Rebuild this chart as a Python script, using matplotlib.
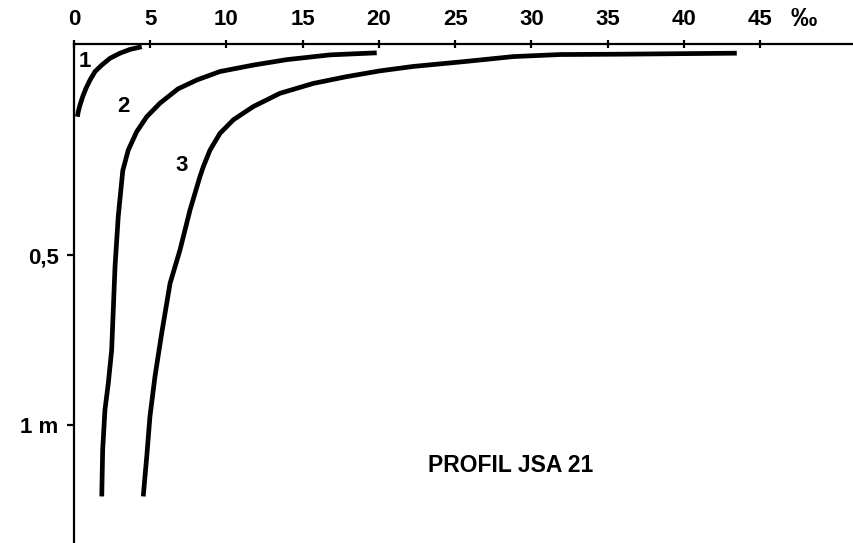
import numpy as np
import matplotlib.pyplot as plt

plt.rcParams['font.family'] = ['Liberation Sans', 'DejaVu Sans']

# salinity (per mille) vs depth (m)
c1_sal = [4.44, 3.67, 3.02, 2.36, 1.82, 1.38, 1.05, 0.79, 0.57, 0.39, 0.28, 0.22]
c1_dep = [-0.114, -0.106, -0.095, -0.080, -0.060, -0.041, -0.016, 0.008, 0.033, 0.058, 0.077, 0.092]

c2_sal = [19.85, 18.31, 16.79, 13.95, 11.76, 9.57, 8.05, 6.82, 5.64, 4.77, 4.11, 3.56,
          3.20, 2.90, 2.69, 2.47, 2.25, 2.03, 1.88, 1.82]
c2_dep = [-0.096, -0.093, -0.090, -0.076, -0.060, -0.041, -0.016, 0.010, 0.052, 0.092, 0.136, 0.190,
          0.250, 0.386, 0.533, 0.778, 0.876, 0.954, 1.072, 1.209]

c3_sal = [43.46, 35.80, 31.87, 28.81, 25.53, 22.25, 20.07, 17.88, 15.69, 13.51, 11.76, 10.45,
          9.57, 8.92, 8.48, 8.26, 7.61, 6.95, 6.30, 5.75, 5.31, 4.98, 4.77, 4.54]
c3_dep = [-0.095, -0.092, -0.091, -0.085, -0.070, -0.056, -0.043, -0.026, -0.006, 0.023, 0.062, 0.101,
          0.141, 0.190, 0.239, 0.268, 0.366, 0.484, 0.582, 0.729, 0.856, 0.974, 1.092, 1.209]

x_ticks = [0, 5, 10, 15, 20, 25, 30, 35, 40, 45]
y_ticks = [0.5, 1.0]
y_labels = ['0,5', '1 m']

fig = plt.figure(figsize=(8.54, 5.43), dpi=100)
ax = fig.add_axes([74 / 854, 0, 1 - 74 / 854, 1 - 44 / 543])

for s, d in [(c1_sal, c1_dep), (c2_sal, c2_dep), (c3_sal, c3_dep)]:
    ax.plot(s, d, color='black', lw=3.4, solid_capstyle='butt', solid_joinstyle='round')

ax.set_xlim(0, 780 / 15.25)
ax.set_ylim(1.346, -0.122)

ax.spines['right'].set_visible(False)
ax.spines['bottom'].set_visible(False)
ax.spines['top'].set_linewidth(1.6)
ax.spines['left'].set_linewidth(1.6)

ax.xaxis.tick_top()
ax.set_xticks(x_ticks)
ax.set_xticklabels([str(v) for v in x_ticks], fontweight='bold')
ax.tick_params(axis='x', direction='inout', length=6, width=1.6, pad=7, labelsize=16)
ax.set_yticks(y_ticks)
ax.set_yticklabels(y_labels, fontweight='bold')
ax.tick_params(axis='y', direction='out', length=5, width=1.6, pad=6, labelsize=16)

ax.annotate('‰', xy=(47.0, 1.0), xycoords=('data', 'axes fraction'), xytext=(0, 9.5),
            textcoords='offset points', fontsize=19, fontweight='bold', ha='left', va='bottom')

ax.text(0.72, -0.07, '1', fontsize=16, fontweight='bold', ha='center', va='center')
ax.text(3.21, 0.063, '2', fontsize=16, fontweight='bold', ha='center', va='center')
ax.text(7.06, 0.234, '3', fontsize=16, fontweight='bold', ha='center', va='center')
ax.text(28.66, 1.119, 'PROFIL JSA 21', fontsize=16.5, fontweight='bold', ha='center', va='center')

fig.savefig('out.png', dpi=100)
